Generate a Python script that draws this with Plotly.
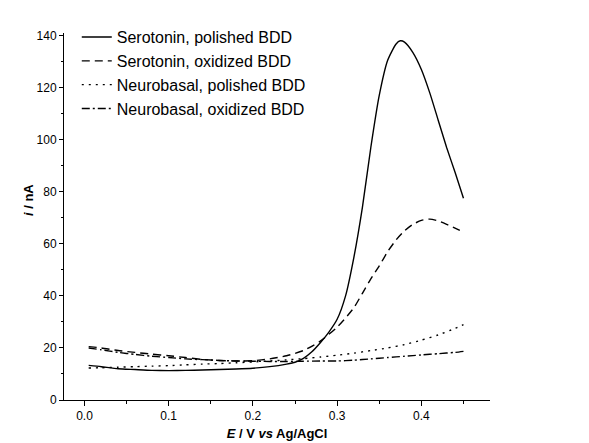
import plotly.graph_objects as go

# Potential (V vs Ag/AgCl) and current (nA)
E_sero_pol = [0.005, 0.02, 0.04, 0.06, 0.08, 0.10, 0.12, 0.14, 0.16, 0.18, 0.20, 0.22, 0.24, 0.25,
              0.26, 0.27, 0.28, 0.29, 0.30, 0.31, 0.32, 0.33, 0.34, 0.35, 0.36, 0.37, 0.375, 0.38,
              0.39, 0.40, 0.41, 0.42, 0.43, 0.44, 0.45]
I_sero_pol = [13.3, 12.8, 12.0, 11.7, 11.4, 11.3, 11.4, 11.5, 11.7, 11.9, 12.2, 12.8, 13.8, 14.5,
              16.0, 18.5, 22.0, 26.0, 31.0, 40.0, 55.0, 74.0, 97.0, 117.0, 130.5, 136.8, 138.0, 137.5,
              133.5, 127.0, 118.0, 107.5, 97.0, 87.5, 77.5]

E_sero_ox = [0.005, 0.02, 0.04, 0.06, 0.08, 0.10, 0.12, 0.14, 0.16, 0.18, 0.20, 0.22, 0.24, 0.26,
             0.28, 0.30, 0.31, 0.32, 0.33, 0.34, 0.35, 0.36, 0.37, 0.38, 0.39, 0.40, 0.41, 0.42,
             0.43, 0.44, 0.45]
I_sero_ox = [20.5, 20.0, 19.0, 18.3, 17.6, 17.0, 16.3, 15.6, 15.2, 15.0, 15.1, 15.8, 17.0, 19.0,
             22.6, 28.0, 31.5, 35.5, 41.0, 46.5, 51.5, 57.0, 61.5, 65.0, 67.5, 69.0, 69.5, 68.8,
             67.5, 66.0, 64.5]

E_neuro_pol = [0.005, 0.02, 0.04, 0.06, 0.08, 0.10, 0.12, 0.14, 0.16, 0.18, 0.20, 0.22, 0.24, 0.26,
               0.28, 0.30, 0.32, 0.34, 0.36, 0.38, 0.40, 0.42, 0.44, 0.45]
I_neuro_pol = [12.3, 12.4, 12.6, 12.8, 13.0, 13.2, 13.5, 13.8, 14.0, 14.3, 14.6, 15.0, 15.4, 15.9,
               16.5, 17.2, 18.0, 19.0, 20.0, 21.3, 23.0, 25.0, 27.5, 29.0]

E_neuro_ox = [0.005, 0.02, 0.04, 0.06, 0.08, 0.10, 0.12, 0.14, 0.16, 0.18, 0.20, 0.22, 0.24, 0.26,
              0.28, 0.30, 0.32, 0.34, 0.36, 0.38, 0.40, 0.42, 0.44, 0.45]
I_neuro_ox = [20.0, 19.3, 18.3, 17.5, 16.8, 16.3, 15.8, 15.5, 15.2, 15.0, 14.9, 14.8, 14.8, 14.9,
              15.0, 15.0, 15.3, 15.8, 16.3, 16.8, 17.3, 17.8, 18.3, 18.7]

names = ["Serotonin, polished BDD", "Serotonin, oxidized BDD",
         "Neurobasal, polished BDD", "Neurobasal, oxidized BDD"]
x_tick_vals = [0.0, 0.1, 0.2, 0.3, 0.4]
x_tick_text = ["0.0", "0.1", "0.2", "0.3", "0.4"]
y_tick_vals = [0, 20, 40, 60, 80, 100, 120, 140]

FONT = "Liberation Sans, Arial, sans-serif"

series = [
    (E_sero_pol, I_sero_pol, "solid"),
    (E_sero_ox, I_sero_ox, "8px,5px"),
    (E_neuro_pol, I_neuro_pol, "2px,5px"),
    (E_neuro_ox, I_neuro_ox, "8px,3px,2px,3px"),
]

fig = go.Figure()
for (xs, ys, dash), name in zip(series, names):
    fig.add_trace(go.Scatter(
        x=xs, y=ys, mode="lines", name=name,
        line=dict(color="black", width=1.4, dash=dash, shape="spline", smoothing=0.6),
    ))

fig.update_layout(
    width=589, height=443,
    margin=dict(l=56, r=107, t=15, b=48),
    paper_bgcolor="white", plot_bgcolor="white",
    font=dict(family=FONT, color="black", size=12),
    showlegend=True,
    legend=dict(
        x=0.03, y=1.035, xanchor="left", yanchor="top",
        font=dict(family=FONT, size=16, color="black"),
        bgcolor="rgba(0,0,0,0)", borderwidth=0,
    ),
    xaxis=dict(
        range=[-0.0243, 0.4815],
        tickvals=x_tick_vals, ticktext=x_tick_text,
        showline=True, linecolor="black", linewidth=1,
        ticks="outside", ticklen=5, tickcolor="black", tickwidth=1,
        minor=dict(dtick=0.05, tick0=0, ticks="outside", ticklen=3, tickcolor="black"),
        showgrid=False, zeroline=False,
        tickfont=dict(family=FONT, size=12, color="black"),
        title=dict(text="<b><i>E</i> / V <i>vs</i> Ag/AgCl</b>",
                   font=dict(family=FONT, size=13, color="black"), standoff=6),
    ),
    yaxis=dict(
        range=[0, 141],
        tickvals=y_tick_vals,
        showline=True, linecolor="black", linewidth=1,
        ticks="outside", ticklen=4, tickcolor="black", tickwidth=1,
        minor=dict(dtick=10, tick0=0, ticks="outside", ticklen=2.5, tickcolor="black"),
        showgrid=False, zeroline=False,
        tickfont=dict(family=FONT, size=12, color="black"),
    ),
    annotations=[dict(
        text="<b><i>i</i> / nA</b>", textangle=-90,
        xref="paper", yref="paper", x=-0.082, y=0.545,
        xanchor="center", yanchor="middle", showarrow=False,
        font=dict(family=FONT, size=13, color="black"),
    )],
)

fig.write_html("out.html")
